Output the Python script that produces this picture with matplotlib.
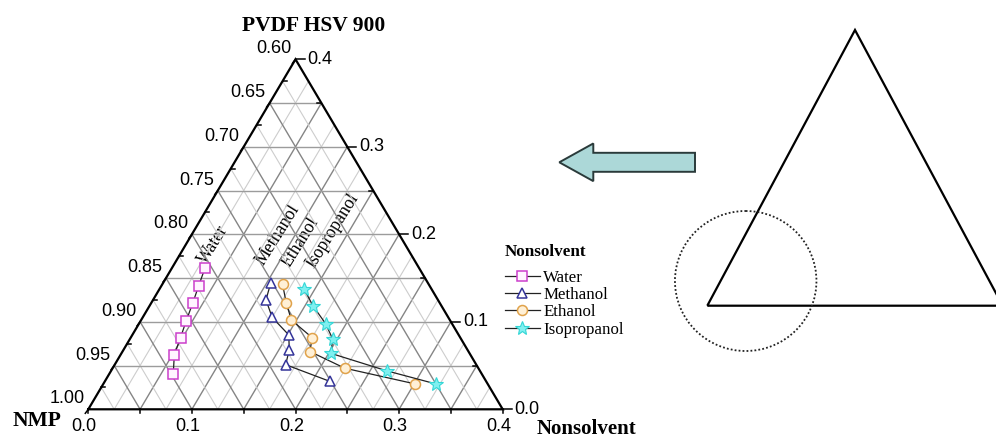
import numpy as np
import matplotlib
matplotlib.use("Agg")
import matplotlib.pyplot as plt
from matplotlib.patches import Polygon, Ellipse, FancyArrow

# ---------------- data (fractions) ----------------
series_names = ["Water", "Methanol", "Ethanol", "Isopropanol"]
# PVDF fraction and nonsolvent fraction of each cloud point (NMP = 1 - PVDF - nonsolvent)
water_pvdf = [0.161, 0.141, 0.122, 0.101, 0.082, 0.062, 0.040]
water_ns = [0.032, 0.036, 0.040, 0.044, 0.048, 0.052, 0.062]
methanol_pvdf = [0.144, 0.125, 0.105, 0.085, 0.068, 0.051, 0.032]
methanol_ns = [0.104, 0.109, 0.125, 0.151, 0.160, 0.165, 0.217]
ethanol_pvdf = [0.143, 0.122, 0.102, 0.082, 0.066, 0.047, 0.029]
ethanol_ns = [0.116, 0.130, 0.145, 0.175, 0.181, 0.224, 0.301]
iso_pvdf = [0.138, 0.118, 0.098, 0.080, 0.064, 0.044, 0.029]
iso_ns = [0.139, 0.158, 0.180, 0.196, 0.202, 0.266, 0.321]

left_tick_labels = ["0.60", "0.65", "0.70", "0.75", "0.80", "0.85", "0.90", "0.95", "1.00"]  # NMP
right_tick_labels = ["0.0", "0.1", "0.2", "0.3", "0.4"]  # PVDF
bottom_tick_labels = ["0.0", "0.1", "0.2", "0.3", "0.4"]  # Nonsolvent

# ---------------- figure ----------------
W, H = 996, 438
fig = plt.figure(figsize=(W / 100, H / 100), dpi=100)
fig.patch.set_facecolor("white")

SERIF = "Liberation Serif"
SANS = "Liberation Sans"

# overlay axes in pixel coordinates for decorations
pax = fig.add_axes([0, 0, 1, 1], zorder=0)
pax.set_xlim(0, W)
pax.set_ylim(H, 0)
pax.axis("off")

# ternary axes
RANGE = 0.4
S = np.sqrt(3) / 2
x0, x1, ytop, ybot = 88.3, 502.7, 59.3, 409.3
ax = fig.add_axes([x0 / W, (H - ybot) / H, (x1 - x0) / W, (ybot - ytop) / H], zorder=2)
ax.set_xlim(0, RANGE)
ax.set_ylim(0, RANGE * S)
ax.axis("off")
pxx = (x1 - x0) / RANGE
pxy = (ybot - ytop) / (RANGE * S)


def cart(ns, pv):
    ns = np.asarray(ns, float)
    pv = np.asarray(pv, float)
    return ns + pv / 2, pv * S


# grid
steps = np.round(np.arange(0.025, RANGE, 0.025), 4)
for v in steps:
    major = abs(v / 0.05 - round(v / 0.05)) < 1e-6
    col = "#858585" if major else "#cdcdcd"
    lw = 1.0 if major else 0.8
    # constant nonsolvent (parallel to left edge)
    xs, ys = cart([v, v], [0, RANGE - v])
    ax.plot(xs, ys, color=col, lw=lw, zorder=1, solid_capstyle="butt")
    # constant NMP (parallel to right edge)
    xs, ys = cart([v, 0], [0, v])
    ax.plot(xs, ys, color=col, lw=lw, zorder=1, solid_capstyle="butt")
for v in np.round(np.arange(0.05, RANGE, 0.05), 4):
    xs, ys = cart([0, RANGE - v], [v, v])
    ax.plot(xs, ys, color="#9c9c9c", lw=1.0, zorder=1)

# frame
fx, fy = cart([0, RANGE, 0, 0], [0, 0, RANGE, 0])
ax.plot(fx, fy, color="black", lw=1.6, zorder=3, clip_on=False, solid_joinstyle="miter")

# bottom ticks / labels (nonsolvent)
for v in np.round(np.arange(0, RANGE + 1e-9, 0.05), 4):
    ax.plot([v, v], [0, -4 / pxy], color="black", lw=1.1, clip_on=False, zorder=3)
for i, lab in enumerate(bottom_tick_labels):
    v = i * 0.1
    ax.annotate(lab, xy=(v, 0), xytext=(-4, -9), textcoords="offset pixels",
                ha="center", va="top", fontsize=13, family=SANS, annotation_clip=False)

# left ticks / labels (NMP)
for k in range(17):
    pv = RANGE - k * 0.025
    x, y = cart(0, pv)
    if k % 2 == 0:
        ax.plot([x, x - 3 / pxx], [y, y - 4 / pxy], color="black", lw=1.1, clip_on=False, zorder=3)
    else:
        ax.plot([x, x + 4 / pxx], [y, y], color="black", lw=1.1, clip_on=False, zorder=3)
for i, lab in enumerate(left_tick_labels):
    pv = RANGE - i * 0.05
    x, y = cart(0, pv)
    ax.annotate(lab, xy=(x, y), xytext=(-4, 10.5), textcoords="offset pixels",
                ha="right", va="center", fontsize=13, family=SANS, annotation_clip=False)

# right ticks / labels (PVDF)
for k in range(9):
    pv = k * 0.05
    x, y = cart(RANGE - pv, pv)
    if k % 2 == 0:
        ax.plot([x, x + 9 / pxx], [y, y], color="black", lw=1.1, clip_on=False, zorder=3)
    else:
        ax.plot([x, x - 4 / pxx], [y, y], color="black", lw=1.1, clip_on=False, zorder=3)
for i, lab in enumerate(right_tick_labels):
    pv = i * 0.1
    x, y = cart(RANGE - pv, pv)
    ax.annotate(lab, xy=(x, y), xytext=(12, 0), textcoords="offset pixels",
                ha="left", va="center", fontsize=13, family=SANS, annotation_clip=False)

# data series
styles = [
    dict(marker="s", ms=7.0, mec="#cc3fcc", mfc="#fff4ff", mew=1.1),
    dict(marker="^", ms=7.5, mec="#35359a", mfc="white", mew=1.1),
    dict(marker="o", ms=7.2, mec="#e0a24a", mfc="#fff0d6", mew=1.1),
    dict(marker="*", ms=10, mec="#33d6d6", mfc="#7ff0f0", mew=0.8),
]
data = [(water_ns, water_pvdf), (methanol_ns, methanol_pvdf),
        (ethanol_ns, ethanol_pvdf), (iso_ns, iso_pvdf)]
handles = []
for name, (ns, pv), st in zip(series_names, data, styles):
    xs, ys = cart(ns, pv)
    h, = ax.plot(xs, ys, color="#222222", lw=0.9, label=name, zorder=4, clip_on=False, **st)
    handles.append(h)

# legend
pax.text(505, 252, "Nonsolvent", ha="left", va="center", fontsize=12.3,
         weight="bold", family=SERIF)
leg = fig.legend(handles=handles, loc="upper left", bbox_to_anchor=(505 / W, 1 - 269.5 / H),
                 frameon=False, prop=dict(family=SERIF, size=12.2),
                 handlelength=2.05, handletextpad=0.2, labelspacing=0.08,
                 borderpad=0.0, borderaxespad=0.0)

# axis titles
pax.text(313.5, 30.7, "PVDF HSV 900", ha="center", va="baseline", fontsize=15.5,
         weight="bold", family=SERIF)
pax.text(12.7, 426, "NMP", ha="left", va="baseline", fontsize=15.5, weight="bold", family=SERIF)
pax.text(537, 434.5, "Nonsolvent", ha="left", va="baseline", fontsize=15, weight="bold", family=SERIF)

# rotated series labels
for name, (cx, cy) in zip(series_names, [(213, 245), (277.5, 235), (300, 242.5), (333, 231)]):
    pax.text(cx, cy, name, rotation=58, rotation_mode="anchor", ha="center", va="center",
             fontsize=12.8, family=SERIF)

# schematic: arrow, full triangle, dotted circle
pax.add_patch(FancyArrow(695, 162.3, -135.7, 0, width=19, head_width=37.7, head_length=34,
                         length_includes_head=True, facecolor="#acd8d8", edgecolor="#2a3a3a",
                         lw=1.4))
pax.add_patch(Polygon([[707.3, 305.7], [855, 30], [1002.7, 305.7]], closed=True,
                      fill=False, edgecolor="black", lw=1.6, clip_on=False))
pax.add_patch(Ellipse((745.7, 281), 141.5, 140, fill=False, edgecolor="#222222",
                      lw=1.3, linestyle=(0, (1, 1.2))))

fig.savefig("out.png", dpi=100, facecolor="white")
